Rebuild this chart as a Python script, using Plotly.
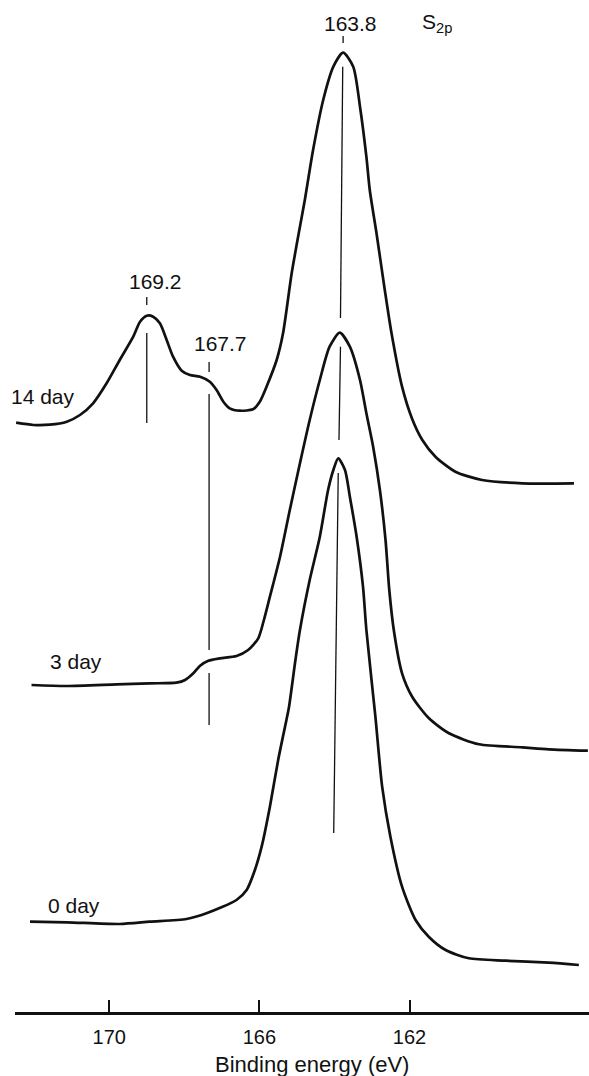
import plotly.graph_objects as go

# Binding energy (eV) and intensity (arbitrary units, stacked/offset)
E_14 = [172.48, 172.02, 171.58, 171.13, 170.78, 170.43, 170.07, 169.72, 169.36, 169.18,
        169.00, 168.83, 168.65, 168.47, 168.30, 168.07, 167.85, 167.58, 167.32, 167.14,
        166.96, 166.79, 166.52, 166.17, 165.99, 165.81, 165.54, 165.37, 165.14, 164.92,
        164.79, 164.57, 164.30, 164.03, 163.77, 163.50, 163.32, 163.15, 163.06, 162.88,
        162.66, 162.48, 162.20, 161.93, 161.66, 161.31, 160.78, 160.07, 159.00, 157.62]
I_14 = [590.3, 588.0, 588.3, 591.3, 598.0, 609.7, 629.7, 653.0, 676.3, 691.3,
        697.3, 696.3, 689.7, 673.0, 656.3, 642.3, 638.0, 636.3, 631.3, 623.0,
        611.3, 604.7, 602.3, 603.7, 611.3, 626.3, 653.0, 679.7, 739.7, 786.3,
        813.0, 863.0, 913.0, 946.3, 960.3, 946.3, 906.3, 856.3, 823.0, 779.7,
        723.0, 679.7, 626.3, 594.0, 573.0, 556.3, 541.3, 533.0, 529.7, 529.7]

E_3 = [172.07, 171.13, 169.80, 168.92, 168.21, 167.98, 167.76, 167.58, 167.36, 167.05,
       166.61, 166.30, 166.03, 165.88, 165.72, 165.45, 165.19, 164.92, 164.66, 164.39,
       164.13, 163.86, 163.59, 163.32, 163.15, 162.97, 162.79, 162.64, 162.54, 162.42,
       162.20, 161.93, 161.49, 160.95, 160.15, 159.00, 158.29, 157.25]
I_3 = [328.0, 327.0, 328.7, 329.7, 330.3, 333.0, 339.7, 347.3, 352.3, 354.7,
       357.0, 363.0, 374.7, 393.0, 416.3, 456.3, 503.0, 549.7, 593.0, 633.0,
       666.3, 680.3, 666.3, 633.0, 599.7, 566.3, 523.0, 473.0, 423.0, 383.0,
       339.7, 316.3, 295.0, 279.7, 268.7, 265.7, 263.7, 262.3]

E_0 = [172.11, 171.13, 169.72, 168.92, 167.94, 167.41, 166.61, 166.34, 166.12, 165.94,
       165.72, 165.50, 165.28, 165.21, 165.04, 164.92, 164.66, 164.39, 164.17, 164.03,
       163.90, 163.72, 163.59, 163.41, 163.24, 163.15, 162.91, 162.73, 162.51,
       162.20, 161.84, 161.49, 161.04, 160.42, 159.44, 158.29, 157.49]
I_0 = [91.3, 90.7, 89.0, 91.3, 94.0, 99.7, 113.0, 123.0, 143.0, 166.3,
       206.3, 253.0, 293.0, 306.3, 353.0, 383.0, 433.0, 476.3, 523.0, 543.0,
       554.7, 543.0, 516.3, 476.3, 426.3, 383.0, 296.3, 226.3, 176.3,
       126.3, 93.0, 76.3, 63.0, 54.7, 52.3, 50.3, 48.0]

series_names = ["14 day", "3 day", "0 day"]

# Peak marker lines: x at top / bottom, intensity top / bottom
mark_E_top = [163.77, 163.78, 163.84, 163.90, 169.00, 169.00, 167.34, 167.34, 167.34]
mark_E_bot = [163.77, 163.84, 163.88, 164.02, 169.00, 169.00, 167.34, 167.34, 167.34]
mark_I_top = [977.0, 946.3, 666.3, 540.0, 716.0, 680.0, 651.0, 619.0, 340.0]
mark_I_bot = [970.0, 695.0, 573.0, 180.0, 708.0, 590.0, 641.0, 363.0, 288.0]

peak_labels = ["163.8", "169.2", "167.7"]
peak_label_E = [163.57, 168.76, 167.03]
peak_label_I = [990.0, 732.0, 670.0]

day_label_E = [172.50, 171.62, 171.69]
day_label_I = [617.0, 352.0, 108.0]

tick_vals = [170, 166, 162]
tick_text = ["170", "166", "162"]
x_range = [172.51, 157.22]

FONT = "Liberation Sans, Arial, sans-serif"
INK = "#111111"

fig = go.Figure()
for E, I, name in zip([E_14, E_3, E_0], [I_14, I_3, I_0], series_names):
    fig.add_trace(go.Scatter(x=E, y=I, mode="lines", name=name,
                             line=dict(color=INK, width=2.7, shape="spline", smoothing=0.7),
                             hoverinfo="x+name", showlegend=False))

for et, eb, it, ib in zip(mark_E_top, mark_E_bot, mark_I_top, mark_I_bot):
    fig.add_trace(go.Scatter(x=[et, eb], y=[it, ib], mode="lines",
                             line=dict(color=INK, width=1.3), hoverinfo="skip",
                             showlegend=False))

for txt, e, i in zip(peak_labels, peak_label_E, peak_label_I):
    fig.add_annotation(x=e, y=i, text=txt, showarrow=False,
                       font=dict(family=FONT, size=21, color=INK),
                       xanchor="center", yanchor="middle")

for txt, e, i in zip(series_names, day_label_E, day_label_I):
    fig.add_annotation(x=e, y=i, text=txt, showarrow=False,
                       font=dict(family=FONT, size=21, color=INK),
                       xanchor="left", yanchor="middle", xshift=-6 if txt == "14 day" else 0)

fig.add_annotation(x=161.26, y=990.0, text="S<sub>2p</sub>", showarrow=False,
                   font=dict(family=FONT, size=21, color=INK),
                   xanchor="center", yanchor="middle")

fig.add_annotation(x=164.60, y=-0.052, yref="paper", text="Binding energy (eV)",
                   showarrow=False, font=dict(family=FONT, size=22, color=INK),
                   xanchor="center", yanchor="middle")

fig.update_xaxes(range=x_range, showline=True, linecolor=INK, linewidth=2.5,
                 ticks="inside", ticklen=12, tickwidth=2, tickcolor=INK,
                 tickvals=tick_vals, ticktext=tick_text, ticklabelstandoff=5,
                 tickfont=dict(family=FONT, size=20, color=INK),
                 showgrid=False, zeroline=False, mirror=False)
fig.update_yaxes(range=[1, 1013], visible=False, showgrid=False, zeroline=False)

fig.update_layout(width=589, height=1076, margin=dict(l=15, r=0, t=0, b=64),
                  plot_bgcolor="white", paper_bgcolor="white", showlegend=False)

fig.write_html("out.html")
